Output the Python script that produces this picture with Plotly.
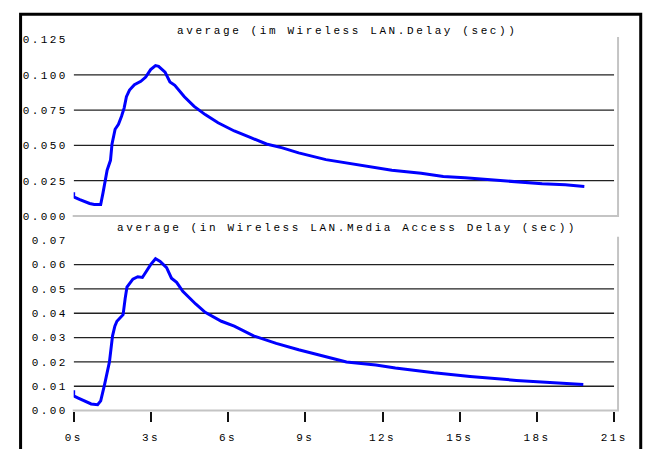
import plotly.graph_objects as go

# ---------------- data ----------------
t_delay = [0.0, 0.0, 0.24, 0.62, 0.8, 1.05, 1.14, 1.24, 1.3, 1.43, 1.49, 1.61, 1.74, 1.86,
           1.96, 2.05, 2.17, 2.36, 2.61, 2.8, 2.99, 3.18, 3.3, 3.55, 3.74, 3.93, 4.3, 4.68,
           5.11, 5.61, 6.24, 6.86, 7.49, 8.11, 8.74, 9.8, 11.11, 12.36, 13.5, 14.36, 15.2,
           16.1, 17.36, 18.2, 19.1, 19.84]
v_delay = [0.0167, 0.0135, 0.0116, 0.0088, 0.0081, 0.0081, 0.0163, 0.0255, 0.0324, 0.0394,
           0.051, 0.0614, 0.0649, 0.0706, 0.0764, 0.0845, 0.0892, 0.093, 0.0954, 0.0984,
           0.1037, 0.1065, 0.106, 0.1019, 0.0949, 0.0926, 0.0845, 0.0776, 0.0718, 0.066,
           0.0602, 0.0556, 0.051, 0.0482, 0.0447, 0.0399, 0.0359, 0.0324, 0.0302, 0.028,
           0.027, 0.0258, 0.0237, 0.0228, 0.022, 0.0208]

t_mac = [0.0, 0.0, 0.18, 0.43, 0.68, 0.93, 1.05, 1.2, 1.39, 1.51, 1.6, 1.68, 1.92, 2.0, 2.07,
         2.3, 2.49, 2.67, 2.85, 2.99, 3.18, 3.36, 3.61, 3.8, 4.0, 4.24, 4.74, 5.11, 5.74,
         6.24, 6.99, 7.87, 8.74, 9.86, 10.6, 11.74, 12.5, 14.0, 15.4, 17.2, 19.0, 19.8]
v_mac = [0.0083, 0.006, 0.0051, 0.004, 0.0027, 0.0024, 0.004, 0.0107, 0.02, 0.0307, 0.0347,
         0.0367, 0.0394, 0.046, 0.0507, 0.054, 0.055, 0.0547, 0.0576, 0.06, 0.0624, 0.0613,
         0.0587, 0.0544, 0.0527, 0.049, 0.0438, 0.0404, 0.0367, 0.0347, 0.0307, 0.0276,
         0.025, 0.022, 0.02, 0.0187, 0.0175, 0.0155, 0.014, 0.0124, 0.0113, 0.0107]

x_ticks = [0, 3, 6, 9, 12, 15, 18, 21]
x_tick_labels = ["0s", "3s", "6s", "9s", "12s", "15s", "18s", "21s"]

delay_ticks = [0.0, 0.025, 0.05, 0.075, 0.1, 0.125]
delay_tick_labels = ["0.000", "0.025", "0.050", "0.075", "0.100", "0.125"]
delay_grid = [0.025, 0.05, 0.075, 0.1]

mac_ticks = [0.0, 0.01, 0.02, 0.03, 0.04, 0.05, 0.06, 0.07]
mac_tick_labels = ["0.00", "0.01", "0.02", "0.03", "0.04", "0.05", "0.06", "0.07"]
mac_grid = [0.01, 0.02, 0.03, 0.04, 0.05, 0.06]

title_top = "average (im Wireless LAN.Delay (sec))"
title_bottom = "average (in Wireless LAN.Media Access Delay (sec))"

# ---------------- layout helpers ----------------
W, H = 661, 449
def px(x):
    return x / W
def py(y):
    return 1 - y / H

FONT = "Liberation Mono, Courier New, monospace"
TXT = "#000000"
def spaced(s, sp=2.4):
    return f'<span style="letter-spacing:{sp}px">{s}</span>'

fig = go.Figure()
fig.add_trace(go.Scatter(x=t_delay, y=v_delay, mode="lines", xaxis="x", yaxis="y",
                         line=dict(color="#0000ff", width=3), showlegend=False))
fig.add_trace(go.Scatter(x=t_mac, y=v_mac, mode="lines", xaxis="x2", yaxis="y2",
                         line=dict(color="#0000ff", width=3), showlegend=False))

xdom = [px(67), px(627)]
shapes = []
for g in delay_grid:
    shapes.append(dict(type="line", xref="x", yref="y", x0=0, x1=21, y0=g, y1=g,
                       line=dict(color="#222222", width=1.3), layer="below"))
for g in mac_grid:
    shapes.append(dict(type="line", xref="x2", yref="y2", x0=0, x1=21, y0=g, y1=g,
                       line=dict(color="#222222", width=1.3), layer="below"))
# grey frames (bottom + right)
for (yb, yt) in [(216.7, 33), (416.7, 238)]:
    shapes.append(dict(type="path", xref="paper", yref="paper",
                       path=f"M {px(66)},{py(yb)} L {px(631)},{py(yb)} L {px(631)},{py(yt)}",
                       line=dict(color="#c4c4c4", width=2)))
# outer black border
shapes.append(dict(type="rect", xref="paper", yref="paper", x0=px(12), x1=px(654.5),
                   y0=-0.1, y1=py(9.5), line=dict(color="#000000", width=3)))

fig.update_layout(
    width=W, height=H, margin=dict(l=0, r=0, t=0, b=0),
    paper_bgcolor="white", plot_bgcolor="white",
    font=dict(family=FONT, size=11, color=TXT),
    xaxis=dict(domain=xdom, range=[0, 21], anchor="y", showgrid=False, zeroline=False,
               showticklabels=False, ticks="", showline=False),
    yaxis=dict(domain=[py(216.7), py(35.5)], range=[0, 0.125], anchor="x",
               tickvals=delay_ticks, ticktext=[spaced(s) for s in delay_tick_labels],
               showgrid=False, zeroline=False, ticks="", showline=False,
               ticklabelstandoff=5, tickfont=dict(family=FONT, size=11, color=TXT)),
    xaxis2=dict(domain=xdom, range=[0, 21], anchor="y2", showgrid=False, zeroline=False,
                tickvals=x_ticks, ticktext=[spaced(s) for s in x_tick_labels],
                ticks="outside", ticklen=10, tickwidth=2, tickcolor="#111111",
                showline=False, ticklabelstandoff=6,
                tickfont=dict(family=FONT, size=11, color=TXT)),
    yaxis2=dict(domain=[py(416.7), py(241.7)], range=[0, 0.07], anchor="x2",
                tickvals=mac_ticks, ticktext=[spaced(s) for s in mac_tick_labels],
                showgrid=False, zeroline=False, ticks="", showline=False,
                ticklabelstandoff=5, tickfont=dict(family=FONT, size=11, color=TXT)),
    shapes=shapes,
    annotations=[
        dict(text=spaced(title_top, 2.6), xref="paper", yref="paper", x=px(350), y=py(27),
             xanchor="center", yanchor="middle", showarrow=False,
             font=dict(family=FONT, size=11, color=TXT)),
        dict(text=spaced(title_bottom, 2.6), xref="paper", yref="paper", x=px(350), y=py(229),
             xanchor="center", yanchor="middle", showarrow=False,
             font=dict(family=FONT, size=11, color=TXT)),
    ],
)

fig.write_html(
    "out.html",
    config={"responsive": False, "displayModeBar": False},
    post_script="document.body.style.margin='0';document.body.style.padding='0';"
                "document.documentElement.style.overflow='hidden';",
)
